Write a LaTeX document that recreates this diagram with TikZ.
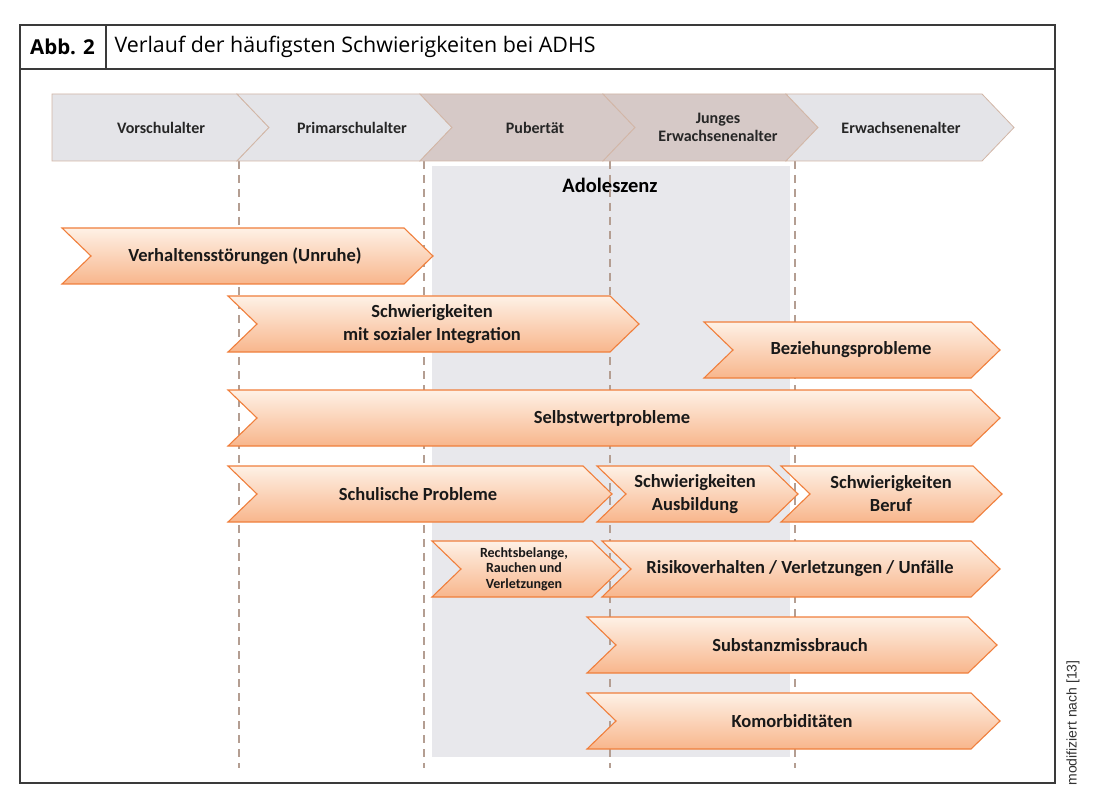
\documentclass[tikz,border=0pt]{standalone}
\usepackage{fontspec}
\setmainfont{Carlito}
\newfontfamily\headfont{Open Sans}
\newfontfamily\notefont{Liberation Sans}
\usepackage{tikz}

\definecolor{framegray}{HTML}{3A3A3A}
\definecolor{phasegray}{HTML}{E4E4E8}
\definecolor{phaserose}{HTML}{D6C9C7}
\definecolor{phaseline}{HTML}{D2B6A6}
\definecolor{adogray}{HTML}{E8E8EC}
\definecolor{dashbrown}{HTML}{B49E92}
\definecolor{chevtop}{HTML}{FEF1E6}
\definecolor{chevbot}{HTML}{F8B68C}
\definecolor{chevline}{HTML}{F07F3C}

\tikzset{
  phase/.style={fill=phasegray,draw=phaseline,line width=0.8pt},
  phaserose/.style={fill=phaserose,draw=phaseline,line width=0.8pt},
  orch/.style={top color=chevtop,bottom color=chevbot,draw=chevline,line width=1.1pt},
  phasetext/.style={font=\bfseries\fontsize{16}{18.5}\selectfont,align=center,text=black!85},
  chevtext/.style={font=\bfseries\fontsize{18.5}{23}\selectfont,align=center,text=black!90},
  lbl/.style={chevtext},
  agegrid/.style={dashbrown,line width=1.6pt,dash pattern=on 8pt off 6pt},
}

% chevron: [style]{left}{right corner}{y centre}{text x}{name}{text}
\newcommand{\chev}[7][orch]{%
  \draw[#1] (#2,#4-\hh) -- (#3,#4-\hh) -- (#3+\dd,#4) -- (#3,#4+\hh)
    -- (#2,#4+\hh) -- (#2+\dd,#4) -- cycle;
  \node[lbl] (#6) at (#5,#4) {#7};}

\begin{document}
\begin{tikzpicture}[x=1pt,y=-1pt]
\useasboundingbox (0,0) rectangle (1100,802);
\fill[white] (0,0) rectangle (1100,802);

% frame and title
\draw[framegray,line width=1.3pt] (20,25) rectangle (1055,783);
\draw[framegray,line width=1.3pt] (20,69) -- (1055,69);
\draw[framegray,line width=1.3pt] (106,25) -- (106,69);
\node[font=\headfont\bfseries\fontsize{20.5}{24}\selectfont] (abb) at (62.5,47) {Abb. 2};
\node[anchor=west,font=\headfont\fontsize{21.4}{24}\selectfont] (title) at (111,47)
  {Verlauf der häufigsten Schwierigkeiten bei ADHS};

% adolescence band
\fill[adogray] (432,166) rectangle (790,757);
\node[font=\bfseries\fontsize{20.5}{24}\selectfont] (ado) at (610,185) {Adoleszenz};

% age borders
\foreach \x in {239,424,610,795}
  \draw[agegrid] (\x,161) -- (\x,768);

% age phases
\begin{scope}[lbl/.style={phasetext}]
\def\hh{33.5}\def\dd{32}
\draw[phase] (52,94) -- (237,94) -- (269,127.5) -- (237,161) -- (52,161) -- cycle;
\node[lbl] (vor) at (161,127.5) {Vorschulalter};
\chev[phase]{237}{420}{127.5}{352}{prim}{Primarschulalter}
\chev[phaserose]{420}{603}{127.5}{535}{pub}{Pubertät}
\chev[phaserose]{603}{786}{127.5}{718}{jung}{Junges\\Erwachsenenalter}
\chev[phase]{786}{982}{127.5}{901}{erw}{Erwachsenenalter}
\end{scope}

% difficulties
\def\hh{28}\def\dd{29}
\chev{62}{404}{256}{245}{unruhe}{Verhaltensstörungen (Unruhe)}
\chev{228}{610}{324}{432}{sozial}{Schwierigkeiten\\mit sozialer Integration}
\chev{704}{971}{350}{851}{bez}{Beziehungsprobleme}
\chev{228}{971}{418}{612}{selbst}{Selbstwertprobleme}
\chev{228}{583}{494}{418}{schule}{Schulische Probleme}
\chev{597}{769}{494}{695}{ausb}{Schwierigkeiten\\Ausbildung}
\chev{781}{973}{494}{891}{beruf}{Schwierigkeiten\\Beruf}
\begin{scope}[lbl/.style={chevtext,font=\bfseries\fontsize{14}{15.5}\selectfont}]
\chev{432}{592}{569}{524}{recht}{Rechtsbelange,\\Rauchen und\\Verletzungen}
\end{scope}
\chev{602}{971}{569}{800}{risiko}{Risikoverhalten / Verletzungen / Unfälle}
\chev{587}{968}{645}{790}{subst}{Substanzmissbrauch}
\chev{587}{971}{721}{792}{komorb}{Komorbiditäten}

% source
\node[rotate=90,font=\notefont\fontsize{14}{16}\selectfont,text=black!80] (src) at (1073,723)
  {modifiziert nach [13]};
\end{tikzpicture}
\end{document}
